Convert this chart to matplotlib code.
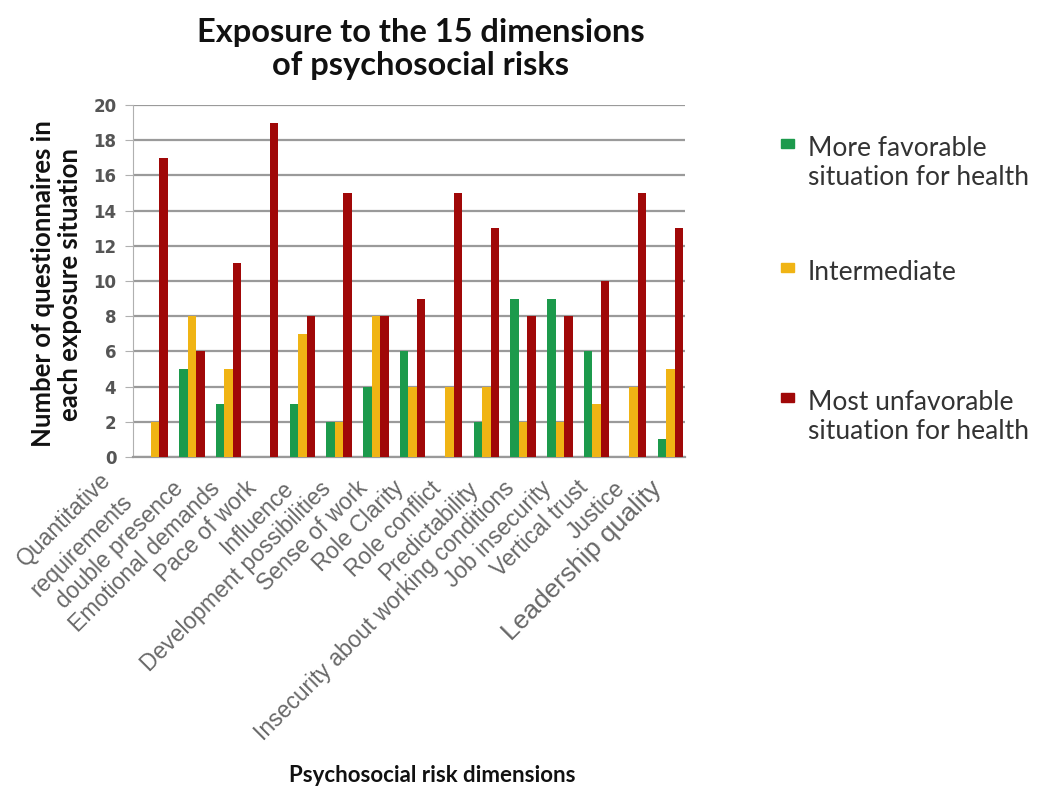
import matplotlib.pyplot as plt
import matplotlib.transforms as mtransforms
from matplotlib.patches import Rectangle
import numpy as np

# data
dimensions = ["Quantitative\nrequirements", "double presence", "Emotional demands",
              "Pace of work", "Influence", "Development possibilities",
              "Sense of work", "Role Clarity", "Role conflict", "Predictability",
              "Insecurity about working conditions", "Job insecurity",
              "Vertical trust", "Justice", "Leadership quality"]
favorable = [0, 5, 3, 0, 3, 2, 4, 6, 0, 2, 9, 9, 6, 0, 1]
intermediate = [2, 8, 5, 0, 7, 2, 8, 4, 4, 4, 2, 2, 3, 4, 5]
unfavorable = [17, 6, 11, 19, 8, 15, 8, 9, 15, 13, 8, 8, 10, 15, 13]
series_names = ["More favorable\nsituation for health", "Intermediate",
                "Most unfavorable\nsituation for health"]
colors = ["#1c9a4c", "#f0b414", "#a00808"]

W, H = 1037, 791
fig = plt.figure(figsize=(W / 100, H / 100), dpi=100)
ax = fig.add_axes([133 / W, 1 - 457 / H, (685 - 133) / W, (457 - 105) / H])

x = np.arange(len(dimensions))
bw = 0.23
for k, vals in enumerate([favorable, intermediate, unfavorable]):
    ax.bar(x + (k - 1) * bw, vals, bw, color=colors[k], zorder=3)

ax.set_xlim(-0.6, 14.4)
ax.set_ylim(0, 20)
ax.set_yticks(range(0, 21, 2))
ax.grid(axis="y", color="#9a9a9a", linewidth=1.6, zorder=0)
for s in ["top", "right"]:
    ax.spines[s].set_visible(False)
ax.spines["left"].set_color("#b0b0b0")
ax.spines["bottom"].set_color("#9a9a9a")
ax.spines["bottom"].set_linewidth(1.6)
ax.tick_params(axis="y", length=6, color="#b0b0b0", labelsize=12,
               labelcolor="#555555", pad=6)
for t in ax.get_yticklabels():
    t.set_fontweight("bold")

ax.set_xticks(x)
ax.set_xticklabels(dimensions, rotation=45, ha="right", va="center",
                   rotation_mode="anchor", fontsize=16.5, color="#686868",
                   family="Liberation Sans", linespacing=1.0)
ax.tick_params(axis="x", length=0, pad=20)
labels = ax.get_xticklabels()
for i, t in enumerate(labels):
    dx, dy = -0.12, 0.0
    if i == 0:
        # the two-line first label sits further left in the reference
        dx, dy = -0.37, -0.03
        t.set_linespacing(1.45)
    if i == len(labels) - 1:
        t.set_fontsize(19)
    t.set_transform(t.get_transform() +
                    mtransforms.ScaledTranslation(dx, dy, fig.dpi_scale_trans))

fig.text(421 / W, 1 - 49 / H, "Exposure to the 15 dimensions\nof psychosocial risks",
         ha="center", va="center", fontsize=23.5, fontweight="bold",
         family="Lato", color="#111111", linespacing=1.2)
fig.text(57 / W, 1 - 284 / H, "Number of questionnaires in\neach exposure situation",
         ha="center", va="center", rotation=90, fontsize=18.5, fontweight="bold",
         family="Lato", color="#111111", linespacing=1.15)
fig.text(432 / W, 1 - 775 / H, "Psychosocial risk dimensions", ha="center",
         va="center", fontsize=16, fontweight="bold", family="Lato", color="#111111")

# legend entries placed like the reference
leg_y = [138, 262, 392]
for k, name in enumerate(series_names):
    fig.add_artist(Rectangle((781 / W, 1 - (leg_y[k] + 10) / H), 13 / W, 9 / H,
                             transform=fig.transFigure, color=colors[k]))
    fig.text(808 / W, 1 - (leg_y[k] - 2) / H, name, ha="left", va="top",
             fontsize=19, family="Lato", color="#333333", linespacing=1.2)

fig.savefig("out.png", dpi=100)
